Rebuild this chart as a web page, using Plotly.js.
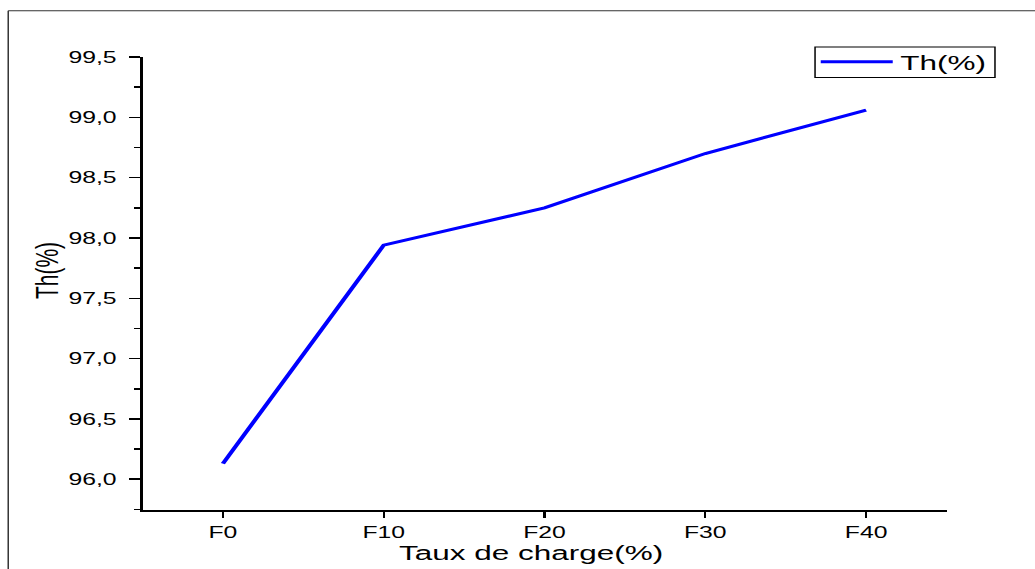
<!DOCTYPE html>
<html><head><meta charset="utf-8">
<script src="https://cdn.plot.ly/plotly-3.0.1.min.js"></script>
<style>
html,body{margin:0;padding:0;background:#fff;overflow:hidden;width:1035px;height:569px}
#chart{width:690px;height:569px;transform:scaleX(1.5);transform-origin:0 0}
</style></head><body><div id="chart"></div>
<script>
const categories = ['F0', 'F10', 'F20', 'F30', 'F40'];
const thValues = [96.13, 97.94, 98.25, 98.70, 99.06];
const yTickVals = [96.0, 96.5, 97.0, 97.5, 98.0, 98.5, 99.0, 99.5];
const yTickText = ['96,0', '96,5', '97,0', '97,5', '98,0', '98,5', '99,0', '99,5'];
const seriesName = 'Th(%)';
const xTitle = 'Taux de charge(%)';
const yTitle = 'Th(%)';

const FONT = 'Liberation Sans, Arial, sans-serif';
const boundaries = categories.map((c, i) => i - 0.5).concat([categories.length - 0.5]);

const traces = [{
  x: categories, y: thValues, type: 'scatter', mode: 'lines', name: seriesName,
  line: {color: '#0000FF', width: 3}
}];

const layout = {
  width: 690, height: 569,
  margin: {l: 95, r: 59, t: 57, b: 59},
  paper_bgcolor: '#fff', plot_bgcolor: '#fff',
  font: {family: FONT, color: '#000', size: 16},
  showlegend: true,
  legend: {x: 1.06, y: 1.034, xanchor: 'right', yanchor: 'top', borderwidth: 0,
           bgcolor: 'rgba(0,0,0,0)', font: {family: FONT, size: 21, color: '#000'}, itemwidth: 48},
  xaxis: {type: 'category', range: [-0.5, categories.length - 0.5], showline: true, linecolor: '#000', linewidth: 2,
          ticks: 'outside', ticklen: 6, tickwidth: 1.5, tickcolor: '#000', showgrid: false, zeroline: false,
          tickfont: {family: FONT, size: 16.5, color: '#000'}, fixedrange: true},
  xaxis2: {overlaying: 'x', anchor: 'y', side: 'bottom', range: [-0.5, categories.length - 0.5],
           tickmode: 'array', tickvals: boundaries, showticklabels: false, ticks: 'outside', ticklen: 3.5,
           tickwidth: 1.5, tickcolor: '#000', showline: false, showgrid: false, zeroline: false, fixedrange: true},
  yaxis: {range: [95.745, 99.5], tickmode: 'array', tickvals: yTickVals, ticktext: yTickText,
          showline: true, linecolor: '#000', linewidth: 2, ticks: 'outside', ticklen: 7, tickwidth: 1.5, tickcolor: '#000',
          ticklabelstandoff: 5,
          showgrid: false, zeroline: false, tickfont: {family: FONT, size: 16.5, color: '#000'}, fixedrange: true,
          minor: {ticks: 'outside', ticklen: 4, tickwidth: 1.5, tickcolor: '#000', tickmode: 'linear', tick0: 96, dtick: 0.25, showgrid: false}},
  annotations: [
    {text: xTitle, xref: 'paper', yref: 'paper', x: 0.483, y: -0.0928, xanchor: 'center', yanchor: 'middle',
     showarrow: false, font: {family: FONT, size: 21, color: '#000'}},
    {text: yTitle, xref: 'paper', yref: 'paper', x: -0.119, y: 0.528, xanchor: 'center', yanchor: 'middle',
     textangle: -90, showarrow: false, font: {family: FONT, size: 21, color: '#000'}}
  ],
  shapes: [
    {type: 'line', xref: 'paper', yref: 'paper', x0: -0.167, x1: -0.167, y0: -0.2, y1: 1.102, line: {color: '#333', width: 1}},
    {type: 'line', xref: 'paper', yref: 'paper', x0: -0.167, x1: 1.2, y0: 1.102, y1: 1.102, line: {color: '#333', width: 1}},
    {type: 'rect', xref: 'paper', yref: 'paper', x0: 0.8365, x1: 1.0603, y0: 0.955, y1: 1.0221, line: {color: '#000', width: 1}}
  ]
};

Plotly.newPlot('chart', traces, layout, {displayModeBar: false, staticPlot: true});
</script></body></html>
